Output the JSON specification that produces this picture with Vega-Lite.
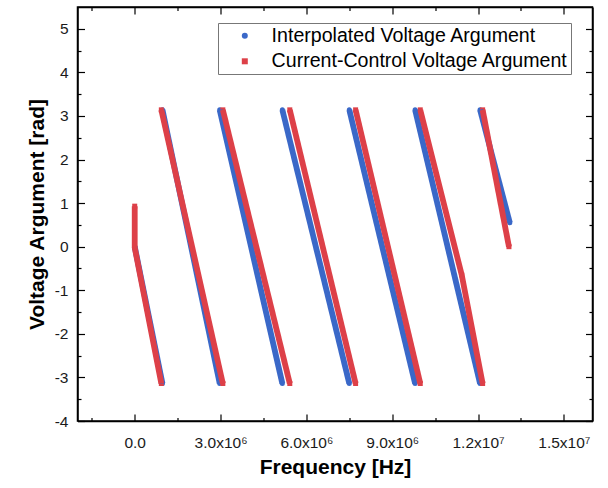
{
  "$schema": "https://vega.github.io/schema/vega-lite/v6.json",
  "width": 515,
  "height": 414,
  "autosize": {"type": "none"},
  "padding": {"left": 77.5, "top": 7, "right": 15.5, "bottom": 67},
  "background": "white",
  "config": {
    "font": "Liberation Sans",
    "view": {"stroke": "black", "strokeWidth": 1.5},
    "axis": {
      "grid": false,
      "domainColor": "black",
      "domainWidth": 1.5,
      "tickColor": "black",
      "tickWidth": 1.2,
      "labelColor": "#1a1a1a",
      "labelFont": "Liberation Sans",
      "labelFontSize": 15.5,
      "titleFont": "Liberation Sans",
      "titleFontSize": 21,
      "titleFontWeight": "bold",
      "titleColor": "black"
    }
  },
  "resolve": {"legend": {"color": "independent", "shape": "independent"}},
  "data": {
    "values": [
      {"s": "Interpolated Voltage Argument", "g": "b0", "i": 0, "f": 0, "v": 0},
      {"s": "Interpolated Voltage Argument", "g": "b0", "i": 1, "f": 970000, "v": -3.14},
      {"s": "Interpolated Voltage Argument", "g": "b1", "i": 0, "f": 970000, "v": 3.14},
      {"s": "Interpolated Voltage Argument", "g": "b1", "i": 1, "f": 2970000, "v": -3.14},
      {"s": "Interpolated Voltage Argument", "g": "b2", "i": 0, "f": 2970000, "v": 3.14},
      {"s": "Interpolated Voltage Argument", "g": "b2", "i": 1, "f": 5160000, "v": -3.14},
      {"s": "Interpolated Voltage Argument", "g": "b3", "i": 0, "f": 5160000, "v": 3.14},
      {"s": "Interpolated Voltage Argument", "g": "b3", "i": 1, "f": 7500000, "v": -3.14},
      {"s": "Interpolated Voltage Argument", "g": "b4", "i": 0, "f": 7500000, "v": 3.14},
      {"s": "Interpolated Voltage Argument", "g": "b4", "i": 1, "f": 9800000, "v": -3.14},
      {"s": "Interpolated Voltage Argument", "g": "b5", "i": 0, "f": 9800000, "v": 3.14},
      {"s": "Interpolated Voltage Argument", "g": "b5", "i": 1, "f": 12070000, "v": -3.14},
      {"s": "Interpolated Voltage Argument", "g": "b6", "i": 0, "f": 12070000, "v": 3.14},
      {"s": "Interpolated Voltage Argument", "g": "b6", "i": 1, "f": 13110000, "v": 0.55},
      {"s": "Current-Control Voltage Argument", "g": "r0", "i": 0, "f": 0, "v": 0.93},
      {"s": "Current-Control Voltage Argument", "g": "r0", "i": 1, "f": 0, "v": -0.02},
      {"s": "Current-Control Voltage Argument", "g": "r0", "i": 2, "f": 930000, "v": -3.14},
      {"s": "Current-Control Voltage Argument", "g": "r1", "i": 0, "f": 930000, "v": 3.14},
      {"s": "Current-Control Voltage Argument", "g": "r1", "i": 1, "f": 3080000, "v": -3.14},
      {"s": "Current-Control Voltage Argument", "g": "r2", "i": 0, "f": 3080000, "v": 3.14},
      {"s": "Current-Control Voltage Argument", "g": "r2", "i": 1, "f": 5420000, "v": -3.14},
      {"s": "Current-Control Voltage Argument", "g": "r3", "i": 0, "f": 5420000, "v": 3.14},
      {"s": "Current-Control Voltage Argument", "g": "r3", "i": 1, "f": 7720000, "v": -3.14},
      {"s": "Current-Control Voltage Argument", "g": "r4", "i": 0, "f": 7720000, "v": 3.14},
      {"s": "Current-Control Voltage Argument", "g": "r4", "i": 1, "f": 9980000, "v": -3.14},
      {"s": "Current-Control Voltage Argument", "g": "r5", "i": 0, "f": 9980000, "v": 3.14},
      {"s": "Current-Control Voltage Argument", "g": "r5", "i": 1, "f": 11430000, "v": -0.65},
      {"s": "Current-Control Voltage Argument", "g": "r5", "i": 2, "f": 12160000, "v": -3.14},
      {"s": "Current-Control Voltage Argument", "g": "r6", "i": 0, "f": 12160000, "v": 3.14},
      {"s": "Current-Control Voltage Argument", "g": "r6", "i": 1, "f": 13080000, "v": 0.0}
    ]
  },
  "layer": [
    {
      "mark": {"type": "point", "filled": true, "size": 25, "opacity": 1},
      "encoding": {
        "x": {
          "field": "f", "type": "quantitative",
          "scale": {"domain": [-2000000, 16000000], "nice": false, "zero": false},
          "axis": {
            "orient": "top", "title": null, "labels": false,
            "values": [-1500000, 0, 1500000, 3000000, 4500000, 6000000, 7500000, 9000000, 10500000, 12000000, 13500000, 15000000],
            "tickSize": {"condition": {"test": "abs(datum.value % 3000000) < 1", "value": -7}, "value": -3.5}
          }
        },
        "y": {
          "field": "v", "type": "quantitative",
          "scale": {"domain": [-4, 5.5], "nice": false, "zero": false},
          "axis": {
            "orient": "right", "title": null, "labels": false,
            "values": [-4, -3.5, -3, -2.5, -2, -1.5, -1, -0.5, 0, 0.5, 1, 1.5, 2, 2.5, 3, 3.5, 4, 4.5, 5],
            "tickSize": {"condition": {"test": "abs(datum.value % 1) < 0.001", "value": -7}, "value": -3.5}
          }
        },
        "color": {
          "field": "s", "type": "nominal",
          "scale": {"domain": ["Interpolated Voltage Argument", "Current-Control Voltage Argument"], "range": ["#3a68c8", "#dd4048"]},
          "legend": {
            "title": null, "orient": "none", "legendX": 140.5, "legendY": 16,
            "strokeColor": "#777", "fillColor": "white", "padding": 3,
            "labelFont": "Liberation Sans", "labelFontSize": 19.6, "labelColor": "black", "labelLimit": 400,
            "symbolSize": 36, "symbolOffset": 14, "labelOffset": 17, "rowPadding": 4.5
          }
        },
        "shape": {
          "field": "s", "type": "nominal",
          "scale": {"domain": ["Interpolated Voltage Argument", "Current-Control Voltage Argument"], "range": ["circle", "square"]},
          "legend": {
            "title": null, "orient": "none", "legendX": 140.5, "legendY": 16,
            "strokeColor": "#777", "fillColor": "white", "padding": 3,
            "labelFont": "Liberation Sans", "labelFontSize": 19.6, "labelColor": "black", "labelLimit": 400,
            "symbolSize": 36, "symbolOffset": 14, "labelOffset": 17, "rowPadding": 4.5
          }
        }
      }
    },
    {
      "mark": {"type": "line", "strokeWidth": 5.8, "strokeCap": "butt", "strokeJoin": "round"},
      "encoding": {
        "x": {
          "field": "f", "type": "quantitative",
          "axis": {
            "orient": "bottom",
            "title": "Frequency [Hz]",
            "values": [-1500000, 0, 1500000, 3000000, 4500000, 6000000, 7500000, 9000000, 10500000, 12000000, 13500000, 15000000],
            "tickSize": {"condition": {"test": "abs(datum.value % 3000000) < 1", "value": -7}, "value": -3.5},
            "labelExpr": "datum.value === 0 ? '0.0' : (abs(datum.value % 3000000) > 1 ? '' : (datum.value < 10000000 ? format(datum.value / 1000000, '.1f') + 'x10⁶' : format(datum.value / 10000000, '.1f') + 'x10⁷'))",
            "labelPadding": 21,
            "labelFlush": false,
            "labelOverlap": false,
            "titlePadding": 2
          }
        },
        "y": {
          "field": "v", "type": "quantitative",
          "axis": {
            "orient": "left",
            "title": "Voltage Argument [rad]",
            "values": [-4, -3.5, -3, -2.5, -2, -1.5, -1, -0.5, 0, 0.5, 1, 1.5, 2, 2.5, 3, 3.5, 4, 4.5, 5],
            "tickSize": {"condition": {"test": "abs(datum.value % 1) < 0.001", "value": -7}, "value": -3.5},
            "labelExpr": "abs(datum.value % 1) < 0.001 ? datum.value + '' : ''",
            "labelPadding": 16.5,
            "labelFlush": false,
            "labelOverlap": false,
            "titlePadding": 7
          }
        },
        "color": {
          "field": "s", "type": "nominal",
          "legend": null
        },
        "detail": {"field": "g"},
        "order": {"field": "i"}
      }
    }
  ]
}
